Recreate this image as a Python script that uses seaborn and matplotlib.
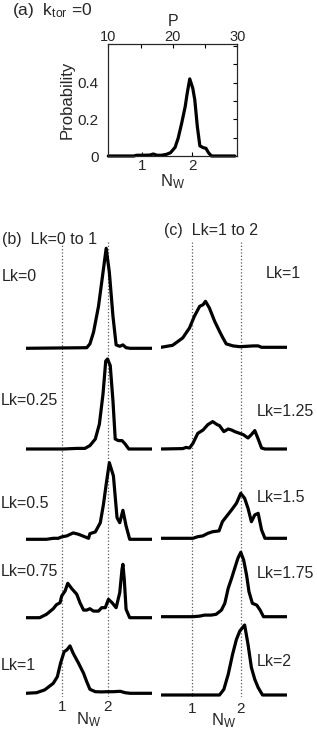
import matplotlib
matplotlib.use('Agg')
import matplotlib.pyplot as plt
import seaborn as sns
from matplotlib.ticker import MultipleLocator

# panel (a): k_tor = 0
nw_a = [0.34, 0.84, 0.90, 1.03, 1.16, 1.23, 1.30, 1.39, 1.49, 1.57, 1.66, 1.72, 1.79, 1.86,
        1.90, 1.95, 2.01, 2.05, 2.10, 2.15, 2.22, 2.27, 2.32, 2.38, 2.84]
p_a = [0, 0, 0.004, 0.004, 0.005, 0.011, 0.004, 0.004, 0.009, 0.018, 0.047, 0.096, 0.178, 0.269,
       0.342, 0.42, 0.369, 0.305, 0.16, 0.055, 0.045, 0.042, 0.018, 0, 0]

# panel (b): Lk = 0 to 1
lk_b = ['Lk=0', 'Lk=0.25', 'Lk=0.5', 'Lk=0.75', 'Lk=1']
nw_b0 = [0.19, 1.54, 1.61, 1.69, 1.80, 1.90, 1.97, 2.04, 2.12, 2.19, 2.27, 2.34, 2.41, 2.50, 2.99]
p_b0 = [0, 0.003, 0.022, 0.08, 0.21, 0.38, 0.50, 0.38, 0.16, 0.017, 0.01, 0.017, 0.003, 0, 0]
nw_b1 = [0.19, 1.02, 1.32, 1.50, 1.61, 1.73, 1.82, 1.90, 1.96, 2.00, 2.06, 2.12, 2.17, 2.24,
         2.32, 2.39, 2.47, 2.99]
p_b1 = [0, 0, 0.003, 0.003, 0.017, 0.05, 0.125, 0.275, 0.44, 0.45, 0.417, 0.24, 0.05, 0.042,
        0.042, 0.025, 0, 0]
nw_b2 = [0.19, 0.65, 0.80, 0.91, 0.985, 1.10, 1.24, 1.36, 1.47, 1.58, 1.61, 1.73, 1.84, 1.91,
         1.97, 2.04, 2.13, 2.21, 2.27, 2.34, 2.41, 2.49, 2.99]
p_b2 = [0, 0, 0.005, 0.005, 0.012, 0.017, 0.032, 0.025, 0.015, 0.005, 0.028, 0.037, 0.083, 0.175,
        0.275, 0.383, 0.317, 0.108, 0.083, 0.145, 0.067, 0, 0]
nw_b3 = [0.19, 0.50, 0.65, 0.80, 0.87, 0.95, 0.985, 1.06, 1.12, 1.21, 1.32, 1.39, 1.47, 1.54,
         1.61, 1.69, 1.80, 1.87, 1.95, 2.02, 2.10, 2.19, 2.27, 2.32, 2.34, 2.37, 2.41, 2.49, 2.99]
p_b3 = [0, 0, 0.017, 0.045, 0.065, 0.075, 0.108, 0.133, 0.172, 0.145, 0.117, 0.075, 0.038, 0.038,
        0.045, 0.033, 0.033, 0.05, 0.05, 0.092, 0.075, 0.05, 0.125, 0.242, 0.267, 0.192, 0.042, 0, 0]
nw_b4 = [0.19, 0.43, 0.61, 0.80, 0.89, 0.96, 1.04, 1.10, 1.17, 1.24, 1.36, 1.47, 1.54, 1.61,
         1.73, 1.87, 1.99, 2.13, 2.28, 2.39, 2.50, 2.99]
p_b4 = [0, 0.003, 0.017, 0.05, 0.083, 0.15, 0.208, 0.217, 0.237, 0.20, 0.15, 0.10, 0.058, 0.02,
        0.008, 0.007, 0.008, 0.008, 0.01, 0.003, 0, 0]

# panel (c): Lk = 1 to 2
lk_c = ['Lk=1', 'Lk=1.25', 'Lk=1.5', 'Lk=1.75', 'Lk=2']
nw_c0 = [0.35, 0.59, 0.80, 0.94, 1.04, 1.15, 1.22, 1.27, 1.35, 1.46, 1.56, 1.63, 1.70, 1.84,
         1.98, 2.12, 2.26, 2.36, 2.43, 2.95]
p_c0 = [0, 0.01, 0.047, 0.097, 0.155, 0.205, 0.213, 0.23, 0.197, 0.13, 0.08, 0.047, 0.017, 0.007,
        0.003, 0.005, 0.007, 0.007, 0, 0]
nw_c1 = [0.35, 0.80, 0.87, 0.94, 1.01, 1.11, 1.22, 1.32, 1.42, 1.51, 1.56, 1.65, 1.74, 1.81,
         1.875, 1.98, 2.05, 2.15, 2.22, 2.29, 2.36, 2.43, 2.50, 2.95]
p_c1 = [0, 0.002, 0.008, 0.005, 0.028, 0.078, 0.095, 0.122, 0.137, 0.122, 0.117, 0.087, 0.10,
        0.095, 0.087, 0.078, 0.072, 0.055, 0.072, 0.092, 0.05, 0.005, 0, 0]
nw_c2 = [0.35, 1.01, 1.11, 1.215, 1.32, 1.42, 1.55, 1.62, 1.70, 1.81, 1.91, 2.00, 2.08, 2.15,
         2.22, 2.29, 2.36, 2.43, 2.50, 2.95]
p_c2 = [0, 0, 0.008, 0.012, 0.025, 0.033, 0.037, 0.083, 0.108, 0.142, 0.175, 0.225, 0.20, 0.15,
        0.083, 0.117, 0.125, 0.042, 0, 0]
nw_c3 = [0.35, 1.01, 1.15, 1.25, 1.39, 1.49, 1.60, 1.67, 1.74, 1.81, 1.875, 1.94, 2.00, 2.06,
         2.12, 2.17, 2.24, 2.33, 2.40, 2.47, 2.95]
p_c3 = [0, 0, 0.003, 0.008, 0.008, 0.012, 0.033, 0.067, 0.142, 0.192, 0.242, 0.292, 0.322, 0.283,
        0.208, 0.125, 0.067, 0.058, 0.033, 0, 0]
nw_c4 = [0.35, 1.56, 1.65, 1.74, 1.83, 1.91, 1.98, 2.08, 2.15, 2.22, 2.29, 2.36, 2.45, 2.95]
p_c4 = [0, 0, 0.028, 0.103, 0.203, 0.278, 0.32, 0.35, 0.253, 0.137, 0.078, 0.037, 0, 0]

sns.set_style('white')
plt.rcParams['font.family'] = ['Liberation Sans', 'DejaVu Sans']
plt.rcParams['mathtext.fontset'] = 'custom'
plt.rcParams['mathtext.rm'] = 'Liberation Sans'
plt.rcParams['mathtext.it'] = 'Liberation Sans:italic'

W, H = 317, 735
fig = plt.figure(figsize=(W / 100, H / 100), dpi=100)
fig.patch.set_facecolor('white')


def box(l, t, r, b):
    return [l / W, 1 - b / H, (r - l) / W, (b - t) / H]


def label(x, y, s, size=11.5):
    fig.text(x / W, 1 - y / H, s, va='center', ha='left', fontsize=size)


nw_label = r'N$_{\mathrm{W}}$'

# (a)
ax = fig.add_axes(box(108.3, 44, 237.3, 156))
sns.lineplot(x=nw_a, y=p_a, ax=ax, color='black', lw=2.3)
for l in ax.lines:
    l.set_clip_on(False)
ax.set_xlim(0.34, 2.89)
ax.set_ylim(0, 0.61)
ax.set_xticks([1, 2])
ax.set_yticks([0, 0.2, 0.4])
ax.set_yticklabels(['0', '0.2', '0.4'])
ax.yaxis.set_minor_locator(MultipleLocator(0.1))
ax.tick_params(which='both', direction='in', right=True, length=3, width=0.8,
               labelsize=11, color='black')
ax.tick_params(axis='y', pad=7)
ax.tick_params(axis='x', pad=2)
ax.set_ylabel('Probability', fontsize=12, labelpad=2)
ax.set_xlabel(nw_label, fontsize=12, labelpad=0)
for s in ax.spines.values():
    s.set_color('black')
    s.set_linewidth(0.8)
top = ax.twiny()
top.set_xlim(10, 30)
top.set_xticks([10, 20, 30])
top.xaxis.set_minor_locator(MultipleLocator(5))
top.tick_params(which='both', direction='in', length=3, width=0.8, labelsize=10.5, pad=0,
                color='black')
top.set_xlabel('P', fontsize=11.5, labelpad=3)

label(12, 10, r'(a)  k$_{\mathrm{tor}}$ =0', 12.5)
label(2, 240, '(b)  Lk=0 to 1')
label(164, 230, '(c)  Lk=1 to 2')

cols = [
    dict(l=25.7, r=152.3, xlim=(0.19, 2.99),
         base=[348.3, 449, 539.3, 617.7, 693.3],
         data=[(nw_b0, p_b0), (nw_b1, p_b1), (nw_b2, p_b2), (nw_b3, p_b3), (nw_b4, p_b4)],
         names=lk_b, lx=[2, 1, 1, 1, 1], ly=[277, 400, 503, 572, 665]),
    dict(l=161, r=286.7, xlim=(0.35, 2.95),
         base=[347.3, 449, 538.3, 616.7, 695],
         data=[(nw_c0, p_c0), (nw_c1, p_c1), (nw_c2, p_c2), (nw_c3, p_c3), (nw_c4, p_c4)],
         names=lk_c, lx=[266, 257, 257, 257, 257], ly=[273, 412, 498, 573, 662]),
]

scale = 200  # px per probability unit
for c in cols:
    guide = fig.add_axes(box(c['l'], 242, c['r'], 697), zorder=0)
    guide.set_xlim(*c['xlim'])
    guide.axvline(1, color='0.35', ls=':', lw=0.9)
    guide.axvline(2, color='0.35', ls=':', lw=0.9)
    guide.axis('off')
    for i, ((xs, ys), b) in enumerate(zip(c['data'], c['base'])):
        a = fig.add_axes(box(c['l'], b - 0.55 * scale, c['r'], b + 0.02 * scale), zorder=1)
        a.patch.set_alpha(0)
        sns.lineplot(x=xs, y=ys, ax=a, color='black', lw=2.3)
        a.set_xlim(*c['xlim'])
        a.set_ylim(-0.02, 0.55)
        a.set_yticks([])
        for s in a.spines.values():
            s.set_visible(False)
        if i == 4:
            a.set_xticks([1, 2])
            a.tick_params(axis='x', length=0, labelsize=11, pad=2)
            a.set_xlabel(nw_label, fontsize=12, labelpad=-3)
        else:
            a.set_xticks([])
        label(c['lx'][i], c['ly'][i], c['names'][i])

fig.savefig('out.png', dpi=100, facecolor='white')
